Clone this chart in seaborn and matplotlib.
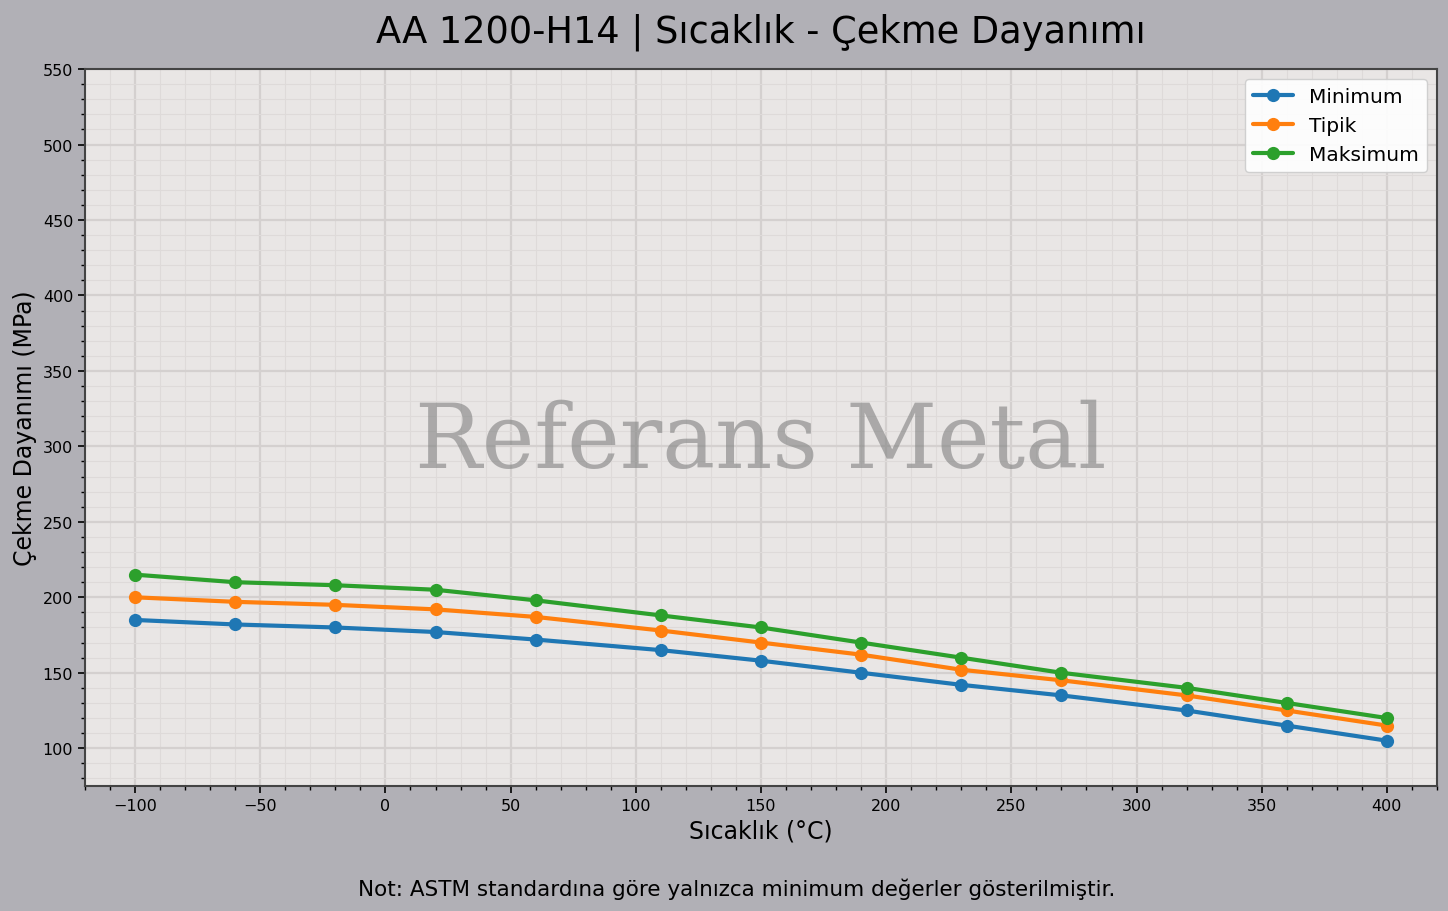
import numpy as np
import pandas as pd
import matplotlib
matplotlib.use("Agg")
import matplotlib.pyplot as plt
import seaborn as sns
from matplotlib.ticker import AutoMinorLocator, MultipleLocator

# Veri
sicaklik = [-100, -60, -20, 20, 60, 110, 150, 190, 230, 270, 320, 360, 400]
minimum = [185, 182, 180, 177, 172, 165, 158, 150, 142, 135, 125, 115, 105]
tipik = [200, 197, 195, 192, 187, 178, 170, 162, 152, 145, 135, 125, 115]
maksimum = [215, 210, 208, 205, 198, 188, 180, 170, 160, 150, 140, 130, 120]
seri_adlari = ["Minimum", "Tipik", "Maksimum"]

df = pd.DataFrame({
    "Sicaklik": sicaklik * 3,
    "Deger": minimum + tipik + maksimum,
    "Seri": [seri_adlari[0]] * len(sicaklik) + [seri_adlari[1]] * len(sicaklik)
            + [seri_adlari[2]] * len(sicaklik),
})

sns.set_style("ticks")
plt.rcParams["font.family"] = ["DejaVu Sans"]
plt.rcParams["text.color"] = "black"
plt.rcParams["axes.labelcolor"] = "black"
plt.rcParams["xtick.color"] = "black"
plt.rcParams["ytick.color"] = "black"

fig = plt.figure(figsize=(14.48, 9.12), dpi=100)
fig.patch.set_facecolor("#b1b0b6")
ax = fig.add_axes([0.0587, 0.1371, 0.9337, 0.7861])
ax.set_facecolor("#e9e6e5")

palette = ["#1f77b4", "#ff7f0e", "#2ca02c"]
sns.lineplot(data=df, x="Sicaklik", y="Deger", hue="Seri", hue_order=seri_adlari,
             palette=palette, marker="o", markersize=9.5, markeredgewidth=0,
             linewidth=3, ax=ax)

ax.set_ylim(75, 550)
ax.set_xlim(-120, 420)
ax.xaxis.set_major_locator(MultipleLocator(50))
ax.set_yticks(np.arange(100, 551, 50))
ax.xaxis.set_minor_locator(AutoMinorLocator(5))
ax.yaxis.set_minor_locator(AutoMinorLocator(5))
ax.grid(which="major", color="#d4d0cf", linewidth=1.6)
ax.grid(which="minor", color="#dedad9", linewidth=0.8)
ax.set_axisbelow(True)
ax.tick_params(which="major", length=5, width=1.2, labelsize=11.5)
ax.tick_params(which="minor", length=3, width=1.0)
for s in ax.spines.values():
    s.set_visible(True)
    s.set_color("#444444")
    s.set_linewidth(1.5)

ax.set_xlabel("Sıcaklık (°C)", fontsize=17)
ax.set_ylabel("Çekme Dayanımı (MPa)", fontsize=17)
ax.set_title("AA 1200-H14 | Sıcaklık - Çekme Dayanımı", fontsize=26.5, pad=20)

leg = ax.legend(loc="upper right", fontsize=14.5, frameon=True)
leg.get_frame().set_facecolor("white")
leg.get_frame().set_alpha(0.9)

ax.text(0.5, 0.48, "Referans Metal", transform=ax.transAxes, ha="center", va="center",
        fontsize=64, family="DejaVu Serif", color="gray", alpha=0.6)

fig.text(0.509, 0.025, "Not: ASTM standardına göre yalnızca minimum değerler gösterilmiştir.",
         ha="center", va="center", fontsize=15.5)

fig.savefig("out.png", dpi=100, facecolor=fig.get_facecolor())
